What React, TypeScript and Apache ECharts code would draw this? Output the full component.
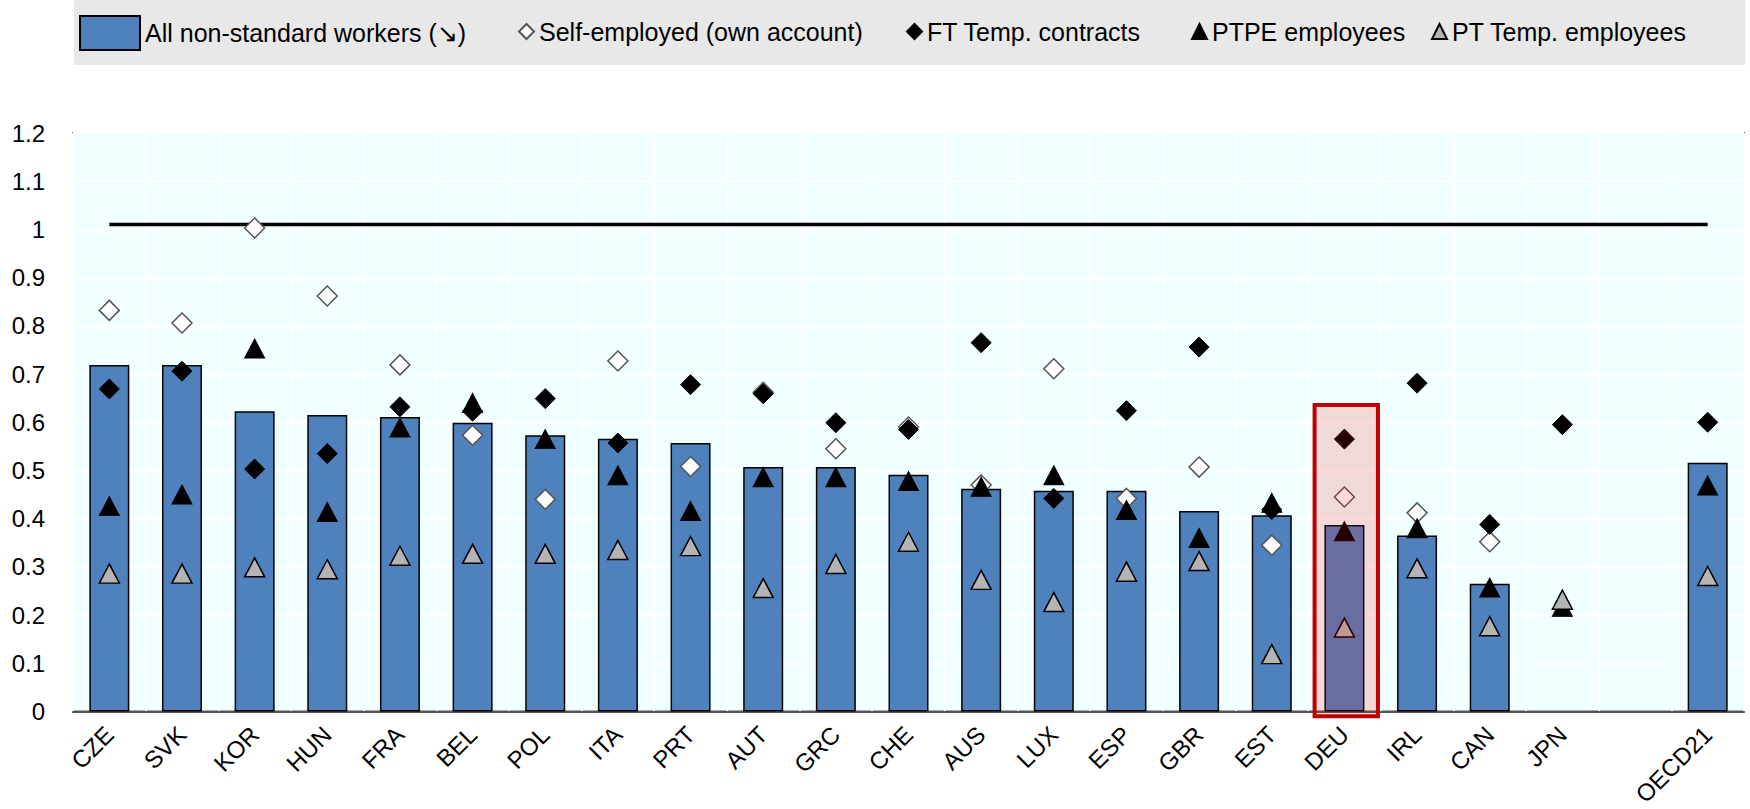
import React, { useEffect, useRef } from 'react';
import * as echarts from 'echarts';

const categories = ['CZE', 'SVK', 'KOR', 'HUN', 'FRA', 'BEL', 'POL', 'ITA', 'PRT', 'AUT', 'GRC', 'CHE', 'AUS', 'LUX', 'ESP', 'GBR', 'EST', 'DEU', 'IRL', 'CAN', 'JPN', '', 'OECD21'];

const allNonStandard = [0.719, 0.719, 0.623, 0.615, 0.611, 0.599, 0.573, 0.566, 0.557, 0.507, 0.507, 0.491, 0.462, 0.458, 0.458, 0.416, 0.407, 0.387, 0.365, 0.265, null, null, 0.516];
const selfEmployed = [0.832, 0.806, 1.003, 0.862, 0.719, 0.573, 0.44, 0.727, 0.508, 0.662, 0.545, 0.59, 0.47, 0.711, 0.442, 0.507, 0.345, 0.445, 0.412, 0.352, null, null, null];
const ftTempContracts = [0.669, 0.706, 0.503, 0.535, 0.632, 0.623, 0.649, 0.557, 0.678, 0.659, 0.599, 0.585, 0.765, 0.442, 0.624, 0.756, 0.419, 0.565, 0.681, 0.388, 0.595, null, 0.6];
const ptpeEmployees = [0.426, 0.45, 0.753, 0.414, 0.589, 0.64, 0.565, 0.49, 0.416, 0.486, 0.486, 0.478, 0.466, 0.49, 0.418, 0.36, 0.433, 0.374, 0.38, 0.257, 0.217, null, 0.469];
const ptTempEmployees = [0.286, 0.286, 0.299, 0.295, 0.323, 0.327, 0.327, 0.335, 0.343, 0.256, 0.306, 0.352, 0.273, 0.227, 0.29, 0.312, 0.119, 0.174, 0.297, 0.177, 0.232, null, 0.281];

const benchmarkLevel = 1.01;
const highlightCategory = 'DEU';
const highlightTop = 0.64;

const seriesNames = [
  'All non-standard workers (\u2198)',
  'Self-employed (own account)',
  'FT Temp. contracts',
  'PTPE employees',
  'PT Temp. employees',
];

const FONT = "'Liberation Sans', Arial, sans-serif";

export default function App() {
  const ref = useRef<HTMLDivElement | null>(null);

  useEffect(() => {
    if (!ref.current) return;
    const chart = echarts.init(ref.current, undefined, { renderer: 'svg' });

    const legendText = { fontSize: 25, color: '#000', fontFamily: FONT };
    const smallLegend = (name: string, left: number) => ({
      data: [name],
      left,
      top: 19,
      itemWidth: 15,
      itemHeight: 15,
      padding: 0,
      selectedMode: false,
      textStyle: legendText,
    });

    chart.setOption({
      animation: false,
      textStyle: { fontFamily: FONT },
      legend: [
        {
          data: [{ name: seriesNames[0], icon: 'rect' }],
          left: 79,
          top: 15,
          itemWidth: 60,
          itemHeight: 34,
          padding: 0,
          selectedMode: false,
          itemStyle: { borderColor: '#000', borderWidth: 2 },
          textStyle: legendText,
        },
        smallLegend(seriesNames[1], 518),
        smallLegend(seriesNames[2], 906),
        smallLegend(seriesNames[3], 1191),
        smallLegend(seriesNames[4], 1431),
      ],
      grid: {
        left: 73,
        right: 6,
        top: 133,
        bottom: 97,
        show: true,
        backgroundColor: '#f0ffff',
        borderColor: '#555',
        borderWidth: 2,
      },
      xAxis: {
        type: 'category',
        data: categories,
        axisTick: { show: false },
        axisLine: { lineStyle: { color: '#555', width: 2 } },
        axisLabel: { rotate: 45, interval: 0, fontSize: 24, color: '#000', margin: 19, fontFamily: FONT },
        splitLine: { show: true, interval: 0, lineStyle: { color: '#ffffff', width: 2 } },
      },
      yAxis: {
        type: 'value',
        min: 0,
        max: 1.2,
        interval: 0.1,
        axisLine: { show: false },
        axisTick: { show: false },
        axisLabel: {
          fontSize: 24,
          color: '#000',
          margin: 28,
          fontFamily: FONT,
          formatter: (v: number) => String(Number(v.toFixed(1))),
        },
        splitLine: { show: true, lineStyle: { color: '#ffffff', width: 2 } },
      },
      series: [
        {
          name: seriesNames[0],
          type: 'bar',
          data: allNonStandard,
          barWidth: 40,
          itemStyle: { color: '#4f81bd', borderColor: '#000', borderWidth: 1.5 },
          z: 2,
        },
        {
          name: 'benchmark',
          type: 'line',
          data: [[categories[0], benchmarkLevel], [categories[categories.length - 1], benchmarkLevel]],
          symbol: 'none',
          lineStyle: { color: '#000', width: 3.5 },
          z: 3,
          silent: true,
        },
        {
          name: seriesNames[1],
          type: 'scatter',
          data: selfEmployed,
          symbol: 'diamond',
          symbolSize: 20,
          itemStyle: { color: '#ffffff', borderColor: '#555', borderWidth: 1.5, opacity: 1 },
          z: 4,
        },
        {
          name: seriesNames[2],
          type: 'scatter',
          data: ftTempContracts,
          symbol: 'diamond',
          symbolSize: 20,
          itemStyle: { color: '#000', borderColor: '#000', borderWidth: 1, opacity: 1 },
          z: 5,
        },
        {
          name: seriesNames[3],
          type: 'scatter',
          data: ptpeEmployees,
          symbol: 'triangle',
          symbolSize: [20, 19],
          itemStyle: { color: '#000', borderColor: '#000', borderWidth: 1, opacity: 1 },
          z: 6,
        },
        {
          name: seriesNames[4],
          type: 'scatter',
          data: ptTempEmployees,
          symbol: 'triangle',
          symbolSize: [20, 19],
          itemStyle: { color: '#b4b4b4', borderColor: '#000', borderWidth: 1.5, opacity: 1 },
          z: 7,
        },
      ],
    });

    const hIdx = categories.indexOf(highlightCategory);
    const cx = chart.convertToPixel({ xAxisIndex: 0 }, hIdx) as number;
    const cPrev = chart.convertToPixel({ xAxisIndex: 0 }, hIdx - 1) as number;
    const catW = cx - cPrev;
    const yTop = chart.convertToPixel({ yAxisIndex: 0 }, highlightTop) as number;
    const y0 = chart.convertToPixel({ yAxisIndex: 0 }, 0) as number;
    const gridLeft = (chart.convertToPixel({ xAxisIndex: 0 }, 0) as number) - catW / 2;
    const gridRight = (chart.convertToPixel({ xAxisIndex: 0 }, categories.length - 1) as number) + catW / 2;

    chart.setOption({
      graphic: [
        {
          type: 'rect',
          id: 'legendBand',
          z: -1,
          silent: true,
          shape: { x: gridLeft + 1, y: 0, width: gridRight - gridLeft, height: 65 },
          style: { fill: '#e8e8e8' },
        },
        {
          type: 'rect',
          id: 'highlight',
          z: 100,
          silent: true,
          shape: {
            x: cx - 0.438 * catW + 2,
            y: yTop + 2,
            width: 0.927 * catW - 4,
            height: y0 + 4.8 - (yTop + 2),
          },
          style: { fill: 'rgba(255,0,0,0.15)', stroke: '#c00000', lineWidth: 4 },
        },
      ],
    });

    return () => {
      chart.dispose();
    };
  }, []);

  return (
    <div
      ref={ref}
      style={{ position: 'absolute', left: 0, top: 0, width: 1750, height: 809 }}
    />
  );
}
